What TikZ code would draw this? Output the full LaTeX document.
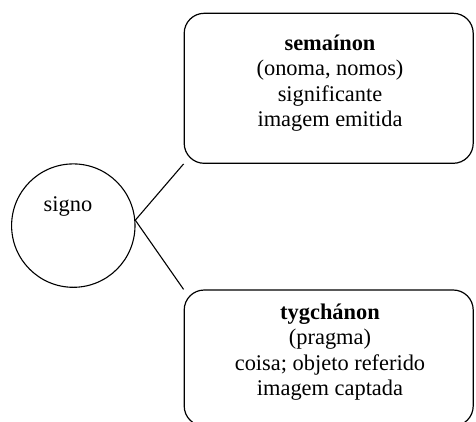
\documentclass[tikz,border=0pt]{standalone}
\usepackage{fontspec}
\setmainfont{Liberation Serif}
\begin{document}
\begin{tikzpicture}[x=1pt,y=-1pt,
  box/.style={draw, line width=1.2pt, rounded corners=20pt, minimum width=289pt, minimum height=150pt, inner sep=0pt},
  txt/.style={align=center, inner sep=0pt, font=\fontsize{22.4}{25.4}\selectfont},
  conn/.style={line width=1.1pt}]
\useasboundingbox (0,0) rectangle (476,421);
\node[draw, circle, line width=1.1pt, minimum size=123.4pt, inner sep=0pt] (sig) at (73.3,225.6) {};
\node[txt] (signotext) at (68,206) {signo};
\node[box] (sem) at (328.7,88.3) {};
\node[txt] (semtext) at (330,83) {\textbf{semaínon}\\(onoma, nomos)\\significante\\imagem emitida};
\node[box, minimum height=136pt] (tyg) at (328.7,358) {};
\node[txt] (tygtext) at (330,352) {\textbf{tygchánon}\\(pragma)\\coisa; objeto referido\\imagem captada};
\draw[conn] (sig.5) -- (sem.south west);
\draw[conn] (sig.5) -- (tyg.north west);
\end{tikzpicture}
\end{document}
